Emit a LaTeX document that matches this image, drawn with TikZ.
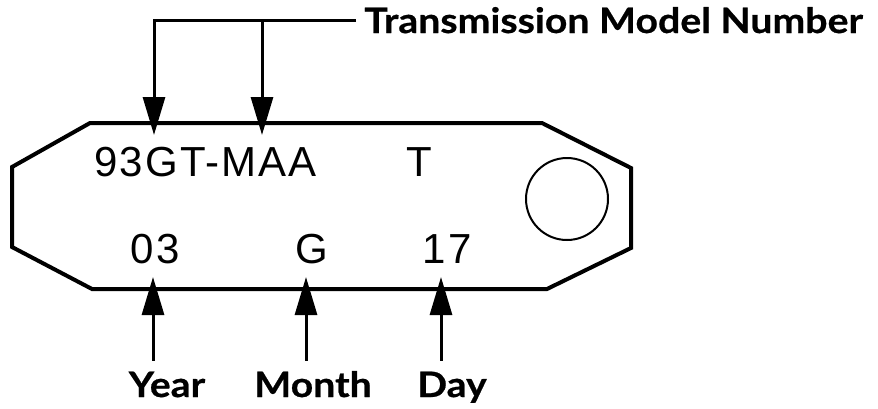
\documentclass[tikz,border=0pt]{standalone}
\usepackage{fontspec}
\setmainfont{Liberation Sans}
\newfontfamily\tagfont[LetterSpace=5]{Liberation Sans}
\newfontfamily\lblfont[FakeStretch=1.12, BoldFeatures={FakeBold=0.6}]{Lato}
\usetikzlibrary{arrows.meta,positioning}

\begin{document}
\begin{tikzpicture}[
        x=0.5pt, y=-0.5pt,
        tagline/.style = {line width=2pt, line join=miter},
        tagtxt/.style  = {font=\tagfont\fontsize{21}{21}\selectfont, inner sep=0pt, anchor=base},
        lbl/.style     = {font=\lblfont\bfseries\fontsize{17.5}{18}\selectfont,
                          inner xsep=0pt, inner ysep=5pt, text height=13pt, anchor=base},
        arr/.style     = {-{Triangle[length=19pt, width=11pt]}, line width=1.5pt}
    ]
        \useasboundingbox (0,0) rectangle (878,408);

        % tag outline and hole
        \draw[tagline] (90,123) -- (542,123) -- (631,168) -- (631,248)
            -- (547,289) -- (92,289) -- (12,247) -- (12,167) -- cycle;
        \draw[line width=1pt] (567,199) circle[radius=20.5pt];

        % stamped code
        \node[tagtxt, anchor=base west] (model) at (94,176) {93GT-MAA};
        \node[tagtxt] (ttag)  at (419,176) {T};
        \node[tagtxt] (year)  at (155,263) {03};
        \node[tagtxt] (month) at (312,263) {G};
        \node[tagtxt] (day)   at (447,263) {17};

        % labels
        \node[lbl, anchor=base west, inner xsep=4pt] (title) at (356,33)
            {Transmission Model Number};
        \node[lbl] (ylbl) at (167,397) {Year};
        \node[lbl] (mlbl) at (313,397) {Month};
        \node[lbl] (dlbl) at (452,397) {Day};

        % arrow tips
        \coordinate (m1) at (154,135);
        \coordinate (m2) at (262,135);
        \coordinate (yt) at (153,277);
        \coordinate (mt) at (306,277);
        \coordinate (dt) at (441,277);

        \draw[arr] (title.west) -| (m1);
        \draw[arr] (m2 |- title.west) -- (m2);
        \draw[arr] (ylbl.north -| yt) -- (yt);
        \draw[arr] (mlbl.north -| mt) -- (mt);
        \draw[arr] (dlbl.north -| dt) -- (dt);
    \end{tikzpicture}
\end{document}
